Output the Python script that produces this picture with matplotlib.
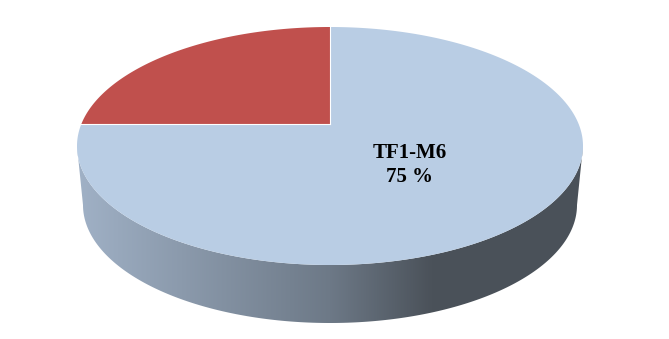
import numpy as np
import matplotlib.pyplot as plt
from matplotlib.colors import LinearSegmentedColormap
from matplotlib.patches import Polygon

# data
labels = ['TF1-M6', 'Autre']
values = [75, 25]
colors = ['#B9CDE4', '#C0504D']
start_angle = 90.0  # clockwise from 12 o'clock

# geometry (pixel coords, y down)
cx, cy, a, b = 330, 146, 253, 119       # top ellipse
vx, vy = 330, 124                       # apparent pie centre
bcx, bcy, ba, bb = 330, 205, 247, 118   # bottom ellipse

def ell(th, cx=cx, cy=cy, a=a, b=b):
    th = np.radians(th)
    return cx + a*np.cos(th), cy - b*np.sin(th)

def ray_hit(phi):
    # point where a ray from the apparent centre meets the top ellipse
    dx, dy = np.cos(np.radians(phi)), -np.sin(np.radians(phi))*b/a
    px, py = (vx-cx)/a, (vy-cy)/b
    qx, qy = dx/a, dy/b
    A = qx*qx + qy*qy
    B = 2*(px*qx + py*qy)
    C = px*px + py*py - 1
    t = (-B + np.sqrt(B*B - 4*A*C))/(2*A)
    x, y = vx + t*dx, vy + t*dy
    return x, y, np.degrees(np.arctan2(-(y-cy)/b, (x-cx)/a))

fig = plt.figure(figsize=(6.69, 3.39), dpi=100)
ax = fig.add_axes([0, 0, 1, 1])
ax.set_xlim(0, 669)
ax.set_ylim(339, 0)
ax.axis('off')

# side wall with horizontal gradient
th = np.linspace(180, 360, 200)
tx, ty = ell(th)
bx, by = ell(th[::-1], bcx, bcy, ba, bb)
side = Polygon(np.column_stack([np.r_[tx, bx], np.r_[ty, by]]), closed=True,
               facecolor='none', edgecolor='none')
ax.add_patch(side)
cmap = LinearSegmentedColormap.from_list('side', [
    (0.0, '#A0B1C6'), (0.5, '#6D7987'), (0.70, '#4B525A'), (1.0, '#4A5159')])
grad = np.linspace(0, 1, 256).reshape(1, -1)
im = ax.imshow(grad, cmap=cmap, extent=[cx-a, cx+a, 340, 100],
               aspect='auto', zorder=1)
im.set_clip_path(side)
ax.set_xlim(0, 669)
ax.set_ylim(339, 0)

# top slices, clockwise
ang = start_angle
edges = []
for val, col in zip(values, colors):
    span = 360.0*val/sum(values)
    x1, y1, t1 = ray_hit(ang)
    x2, y2, t2 = ray_hit(ang - span)
    if t2 > t1:
        t2 -= 360
    arc = np.linspace(t1, t2, 300)
    axx, ayy = ell(arc)
    pts = np.column_stack([np.r_[vx, axx, vx], np.r_[vy, ayy, vy]])
    ax.add_patch(Polygon(pts, closed=True, facecolor=col, edgecolor='none', zorder=2))
    edges.append((x1, y1))
    ang -= span

for x, y in edges:
    ax.plot([vx, x], [vy, y], color='white', lw=0.8, zorder=3)

ax.text(410, 165, f'{labels[0]}\n{values[0]} %', ha='center', va='center',
        fontsize=15, fontweight='bold', family='Liberation Serif',
        linespacing=1.3, color='black', zorder=4)

fig.savefig('out.png', dpi=100)
